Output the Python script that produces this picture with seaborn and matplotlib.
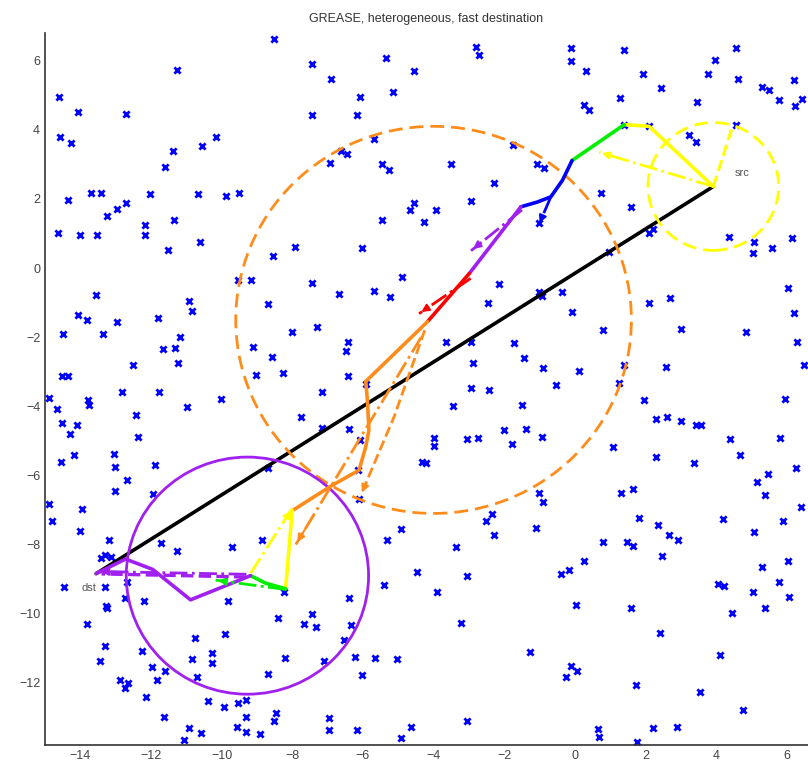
import numpy as np
import pandas as pd
import matplotlib
matplotlib.use("Agg")
import matplotlib.pyplot as plt
from matplotlib.patches import Circle
import seaborn as sns

sns.set_style("white")
plt.rcParams['font.family'] = ['Liberation Sans', 'DejaVu Sans']

# node positions (blue x)
node_x = [-8.52, -11.25, -7.43, -6.89, -5.36, -4.54, -5.15, -6.07, -6.18, -7.45, -14.6, -14.06, -12.7, -14.58,
          -14.27, -11.37, -11.6, -10.55, -10.15, -5.69, -6.93, -6.63, -6.44, -5.45, -5.26, -14.34, -13.71, -13.42,
          -13.24, -12.95, -12.7, -12.04, -10.66, -9.89, -9.51, -4.56, -4.68, -4.27, -5.45, -14.62, -14.01, -13.54,
          -12.17, -12.17, -11.35, -10.62, -11.51, -8.54, -7.92, -6.02, -9.53, -9.18, -7.45, -6.68, -5.69, -5.22,
          -4.89, -13.57, -14.06, -13.8, -12.97, -14.48, -13.35, -11.79, -10.92, -10.85, -8.68, -11.19, -11.66,
          -11.33, -11.23, -12.5, -14.51, -14.34, -9.1, -8.58, -9.04, -8.25, -8.0, -7.29, -6.42, -6.49, -6.42,
          -5.92, -12.81, -11.77, -7.15,
          # upper right
          -2.8, -2.71, -0.11, -0.11, 0.31, 1.4, 1.92, 2.45, 1.28, 0.26, 0.41, 3.45, 3.77, 3.97, 4.56, 4.62, 5.31,
          5.5, 5.78, 6.21, 6.44, 6.23, 1.38, 2.1, 4.56, 3.24, 3.42, -1.76, -3.51, -1.06, -0.87, -2.28, -2.94,
          -3.93, 0.74, 1.6, -1.01, 2.1, 2.2, 4.35, 5.08, 5.03, 5.57, 6.16, 0.97, -2.14, -2.47, -1.01, -0.92,
          -0.37, -0.07, 0.81, 2.1, 2.7, 3.0, 4.84, 6.02, 6.19, 6.28, -3.65, -2.94, -1.72, -1.43, -2.87, -0.9,
          0.12, 1.38, 2.58, 1.25, -0.54, -2.94, -2.42, 6.49,
          # lower left
          -14.89, -14.65, -13.75, -13.77, -10.97, -10.03, -14.51, -14.08, -14.3, -12.43, -12.38, -7.74, -7.17,
          -6.4, -6.07, -14.56, -14.18, -13.05, -13.02, -11.89, -12.67, -13.02, -11.94, -14.89, -14.79, -13.94,
          -14.02, -8.68, -6.13, -6.11, -4.32, -13.19, -11.73, -11.25, -9.72, -8.87, -13.3, -13.14, -13.42,
          -12.67, -13.3, -14.46, -12.2, -12.74, -13.28, -13.24, -9.81, -8.24, -6.38, -5.31, -4.93, -4.46, -5.4,
          -13.8, -8.4, -7.43, -7.67, -7.34, -6.35, -6.54, -10.75, -9.91, -13.3, -13.44, -12.26, -11.96, -11.6,
          -11.82, -12.87, -12.65, -12.74, -10.83, -10.28, -10.26, -10.69, -8.21, -7.1, -8.68, -6.21, -5.66,
          -5.03, -6.04, -12.15, -10.38, -9.93, -9.53, -9.32, -11.63, -9.31, -8.47, -8.52, -6.96, -6.96, -6.16,
          -4.65, -4.91, -10.91, -10.57, -11.07, -9.56, -9.32, -8.92,
          # lower right
          -3.46, -1.5, 1.96, 5.95, -3.98, -4.0, -4.22, -3.04, -2.75, -2.0, -1.79, -1.39, -0.94, 2.29, 2.62, 3.0,
          3.42, 3.57, 4.4, 4.68, 5.81, 6.25, 1.07, 2.29, 3.38, 5.17, 5.47, 5.39, 6.4, -1.01, -0.89, 1.3, 1.66,
          1.82, 2.34, 2.67, 2.92, 2.48, 4.2, 5.08, 5.88, -2.52, -2.35, -2.29, -1.1, -3.37, 0.81, 1.47, 1.66,
          0.26, -0.4, -0.16, -3.06, -3.89, 0.03, 1.6, 4.04, 4.23, 5.03, 5.78, 5.31, 6.02, 6.07, 5.38, 4.46,
          -3.23, 2.42, -1.26, -0.11, 0.06, -0.25, 4.11, 1.73, 3.55, 4.76, -3.06, 0.66, 0.69, 2.2, 2.89, 1.75]
node_y = [6.64, 5.74, 5.91, 5.48, 6.08, 5.71, 5.09, 4.95, 4.44, 4.42, 4.95, 4.52, 4.47, 3.79, 3.62, 3.38, 2.92,
          3.53, 3.79, 3.72, 3.04, 3.38, 3.31, 3.02, 2.83, 1.98, 2.18, 2.16, 1.5, 1.72, 1.87, 2.14, 2.14, 2.08,
          2.18, 1.89, 1.69, 1.34, 1.40, 1.02, 0.95, 0.95, 1.24, 0.95, 1.40, 0.76, 0.52, 0.35, 0.62, 0.57, -0.35,
          -0.35, -0.42, -0.75, -0.67, -0.83, -0.25, -0.78, -1.36, -1.49, -1.55, -1.92, -1.92, -1.44, -0.96,
          -1.24, -1.05, -1.99, -2.35, -2.32, -2.74, -2.82, -3.11, -3.11, -2.28, -2.58, -3.09, -3.03, -1.86,
          -1.7, -2.15, -2.4, -3.12, -3.36, -3.58, -3.6, -3.6,
          # upper right
          6.39, 6.15, 6.37, 5.99, 5.69, 6.3, 5.62, 5.21, 4.93, 4.71, 4.58, 4.81, 5.6, 6.03, 6.37, 5.48, 5.24,
          5.14, 4.87, 5.45, 4.9, 4.68, 4.13, 4.11, 4.13, 3.86, 3.65, 3.55, 3.0, 3.0, 2.88, 2.46, 1.93, 1.67,
          2.16, 1.77, 1.29, 1.0, 1.14, 0.9, 0.76, 0.44, 0.57, 0.87, 0.45, -0.45, -1.0, -0.69, -0.81, -0.69,
          -1.26, -1.79, -1.0, -0.86, -1.77, -1.86, -0.59, -1.31, -2.13, -2.13, -2.13, -2.18, -2.61, -2.76, -2.9,
          -2.98, -2.82, -2.85, -3.34, -3.38, -3.48, -3.53, -2.81,
          # lower left
          -3.76, -4.09, -3.97, -3.83, -4.02, -3.8, -4.47, -4.55, -4.79, -4.24, -4.89, -4.31, -4.62, -4.65,
          -4.98, -5.61, -5.4, -5.37, -5.75, -5.69, -6.14, -6.46, -6.55, -6.83, -7.32, -6.96, -7.61, -5.8, -5.83,
          -6.67, -5.61, -7.87, -7.97, -8.18, -8.08, -7.87, -8.31, -8.35, -8.4, -9.08, -9.22, -9.22, -9.64,
          -9.56, -9.77, -9.85, -9.64, -9.37, -9.56, -7.87, -7.54, -8.79, -9.17, -10.31, -10.14, -10.02, -10.3,
          -10.38, -10.33, -10.76, -10.7, -10.6, -10.94, -11.37, -11.07, -11.53, -11.65, -11.92, -11.92, -12.02,
          -12.16, -11.32, -11.13, -11.44, -11.82, -11.29, -11.37, -11.76, -11.24, -11.29, -11.31, -11.77,
          -12.42, -12.53, -12.69, -12.59, -12.5, -12.98, -12.98, -12.88, -13.12, -13.03, -13.36, -13.36,
          -13.27, -13.59, -13.32, -13.44, -13.65, -13.27, -13.41, -13.49,
          # lower right
          -3.99, -3.95, -3.83, -3.8, -4.92, -5.16, -5.63, -4.95, -4.93, -4.69, -5.08, -4.65, -4.89, -4.36,
          -4.31, -4.43, -4.53, -4.53, -4.96, -5.42, -4.93, -5.78, -5.18, -5.48, -5.63, -6.19, -5.97, -6.57,
          -6.91, -6.52, -6.76, -6.5, -6.4, -7.22, -7.44, -7.73, -7.87, -8.34, -7.25, -7.63, -7.32, -7.32,
          -7.13, -7.71, -7.52, -8.08, -7.92, -7.92, -8.05, -8.47, -8.84, -8.74, -8.9, -9.37, -9.75, -9.85,
          -9.15, -9.19, -9.37, -9.08, -8.64, -8.48, -9.51, -9.85, -9.99, -10.28, -10.57, -11.1, -11.51, -11.66,
          -11.84, -11.2, -12.06, -12.26, -12.79, -13.12, -13.35, -13.56, -13.32, -13.29, -13.7]

src = (3.92, 2.36)
dst = (-13.55, -8.84)

# routing path pieces
yellow_x = [3.92, 2.1, 1.4]
yellow_y = [2.36, 4.1, 4.15]
green_x = [1.4, -0.08]
green_y = [4.15, 3.11]
blue_x = [-0.08, -0.35, -0.68, -1.06, -1.53]
blue_y = [3.11, 2.54, 2.06, 1.91, 1.77]
purple_x = [-1.53, -2.99]
purple_y = [1.77, -0.16]
red_x = [-2.99, -4.17]
red_y = [-0.16, -1.55]
orange_x = [-4.17, -5.92, -5.87, -5.83, -5.92, -6.11, -6.86, -8.0]
orange_y = [-1.55, -3.28, -3.87, -4.69, -5.17, -5.85, -6.28, -7.02]
yellow2_x = [-8.0, -8.19]
yellow2_y = [-7.02, -9.28]
green2_x = [-8.19, -8.75, -9.18]
green2_y = [-9.28, -9.12, -8.9]
purple2_x = [-9.18, -10.88, -11.95, -12.72, -13.55]
purple2_y = [-8.9, -9.6, -8.72, -8.42, -8.84]

# dashed / dash-dot vectors (x0, y0, ..., xn, yn)
yel_dash = [3.92, 2.36, 4.47, 4.12]
yel_dd = [3.92, 2.36, 0.69, 3.35]
blue_dd = [-0.68, 2.06, -1.0, 1.3]
pur_dd = [-1.5, 1.68, -2.94, 0.5]
red_dd = [-2.95, -0.3, -4.41, -1.32]
ora_dash = [-4.25, -1.8, -5.12, -4.31, -6.06, -6.57]
ora_dd = [-4.35, -2.0, -7.9, -8.0]
yel2_dd = [-9.18, -8.83, -8.0, -6.95]
grn2_dd = [-8.19, -9.3, -10.17, -9.03]
pur2_dash = [-9.3, -8.94, -13.4, -8.85]
pur2_dd = [-9.3, -8.86, -13.5, -8.78]

circle_src = (3.92, 2.36, 1.85)
circle_mid = (-4.0, -1.5, 5.6)
circle_dst = (-9.27, -8.9, 3.43)

YEL = '#ffff00'
GRN = '#00ee00'
BLU = '#0000ff'
PUR = '#a020f0'
RED = '#ff0000'
ORA = '#ff8c1a'

fig = plt.figure(figsize=(8.08, 7.71), dpi=100)
ax = fig.add_axes([45 / 808, 26 / 771, 763 / 808, 712 / 771])

df = pd.DataFrame({'x': node_x, 'y': node_y})
sns.scatterplot(data=df, x='x', y='y', marker='x', color=BLU, s=20, linewidth=2.0, ax=ax, zorder=2)

ax.plot([src[0], dst[0]], [src[1], dst[1]], color='black', lw=2.6, zorder=3)

for (cx, cy, r), c, ls in [(circle_src, YEL, (0, (5, 2.5))), (circle_mid, ORA, (0, (5, 2.5))), (circle_dst, PUR, '-')]:
    ax.add_patch(Circle((cx, cy), r, fill=False, edgecolor=c, linestyle=ls, lw=2.0, zorder=3))

for xs, ys, c in [(yellow_x, yellow_y, YEL), (green_x, green_y, GRN), (blue_x, blue_y, BLU),
                  (purple_x, purple_y, PUR), (red_x, red_y, RED), (orange_x, orange_y, ORA),
                  (yellow2_x, yellow2_y, YEL), (green2_x, green2_y, GRN), (purple2_x, purple2_y, PUR)]:
    ax.plot(xs, ys, color=c, lw=2.6, zorder=4)


def vec(v, c, ls):
    xs, ys = v[0::2], v[1::2]
    ax.plot(xs, ys, color=c, lw=2.0, linestyle=ls, zorder=4)
    ax.annotate('', xy=(xs[-1], ys[-1]),
                xytext=(xs[-1] + (xs[-2] - xs[-1]) * 0.15, ys[-1] + (ys[-2] - ys[-1]) * 0.15),
                arrowprops=dict(arrowstyle='-|>', color=c, lw=1.5, mutation_scale=11), zorder=4)


ax.plot(yel_dash[0::2], yel_dash[1::2], color=YEL, lw=2.2, linestyle='--', zorder=4)
vec(yel_dd, YEL, '-.')
vec(blue_dd, BLU, '-.')
vec(pur_dd, PUR, '-.')
vec(red_dd, RED, '-.')
vec(ora_dash, ORA, '--')
vec(ora_dd, ORA, '-.')
vec(yel2_dd, YEL, '-.')
vec(grn2_dd, GRN, '-.')
ax.plot(pur2_dash[0::2], pur2_dash[1::2], color=PUR, lw=2.4, linestyle='--', zorder=4)
vec(pur2_dd, PUR, '-.')

ax.text(4.75, 2.75, 'src', color='#555555', fontsize=8, ha='center', va='center', zorder=5)
ax.text(-13.75, -9.27, 'dst', color='#555555', fontsize=8, ha='center', va='center', zorder=5)

ax.set_xlim(-15, 6.6)
ax.set_ylim(-13.8, 6.8)
ax.set_xticks(np.arange(-14, 7, 2))
ax.set_yticks(np.arange(-12, 7, 2))
ax.set_xlabel('')
ax.set_ylabel('')
ax.tick_params(direction='in', length=5, width=1, colors='#222222', labelsize=9, labelcolor='#444444')
for s in ['top', 'right']:
    ax.spines[s].set_visible(False)
for s in ['left', 'bottom']:
    ax.spines[s].set_color('#333333')
    ax.spines[s].set_linewidth(1.2)
ax.set_title('GREASE, heterogeneous, fast destination', fontsize=9, color='#333333', pad=8)

fig.savefig('out.png', dpi=100)
